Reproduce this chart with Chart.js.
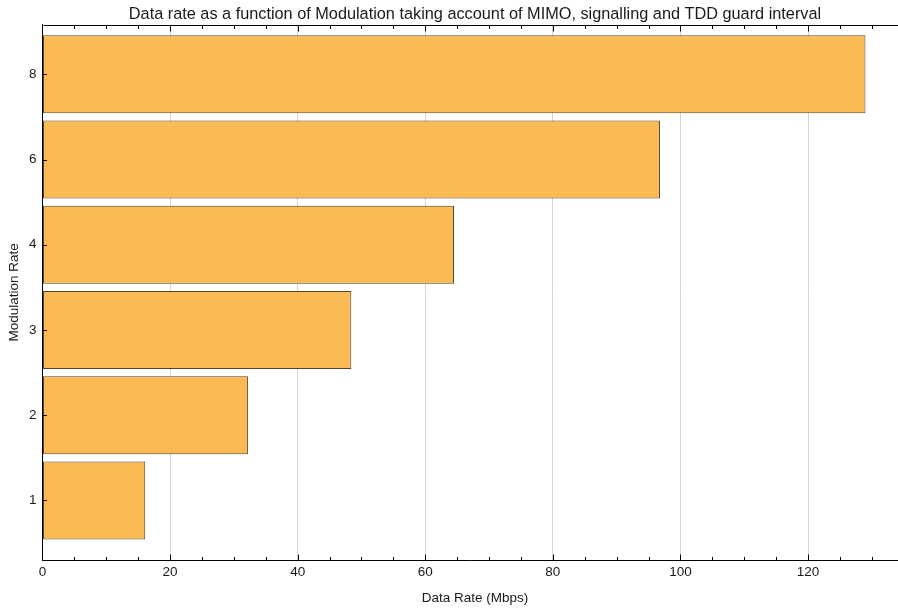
<!DOCTYPE html>
<html>
<head>
<meta charset="utf-8">
<script src="https://cdn.jsdelivr.net/npm/chart.js@4"></script>
<style>
  html, body { margin: 0; padding: 0; background: #fff; }
</style>
</head>
<body>
<canvas id="c" width="898" height="608"></canvas>
<script>
// Modulation rates (category labels, bottom to top) and resulting data rates in Mbps
const categories = ['1', '2', '3', '4', '6', '8'];
const dataRates = [16.1, 32.2, 48.4, 64.5, 96.8, 129.0];
// Labelled ticks on the data-rate axis; minor ticks every 5 Mbps
const xTickValues = [0, 20, 40, 60, 80, 100, 120];
const xMinorStep = 5;
const xMax = 134.1;
// the plot frame continues slightly past the right canvas edge
const frameOverhang = 9.5;

const FONT = "'Liberation Sans', Arial, Helvetica, sans-serif";
const TEXT = '#1a1a1a';

// Frame line on top plus inward major/minor ticks on the drawn frame edges
const frameTicks = {
  id: 'frameTicks',
  afterLayout(chart) {
    // centre the title and the x-axis title over the full plot frame
    const a = chart.chartArea;
    if (chart.titleBlock) {
      chart.titleBlock.left = a.left;
      chart.titleBlock.right = a.right + frameOverhang;
    }
    chart.scales.x.right = a.right + frameOverhang;
  },
  afterDraw(chart) {
    const { ctx, chartArea: a, scales: { x, y } } = chart;
    ctx.save();
    ctx.strokeStyle = '#000';
    ctx.lineWidth = 1;
    ctx.beginPath();
    const top = Math.round(a.top) + 0.5;
    const bottom = Math.round(a.bottom) + 0.5;
    const left = Math.round(a.left) + 0.5;
    ctx.moveTo(left, top);
    ctx.lineTo(a.right, top);
    for (let v = xMinorStep; v <= xMax; v += xMinorStep) {
      const px = Math.round(x.getPixelForValue(v)) + 0.5;
      const len = (v % 20 === 0) ? 6 : 3.5;
      ctx.moveTo(px, bottom);
      ctx.lineTo(px, bottom - len);
      ctx.moveTo(px, top);
      ctx.lineTo(px, top + len);
    }
    for (let i = 1; i <= categories.length; i++) {
      const py = Math.round(y.getPixelForValue(i)) + 0.5;
      ctx.moveTo(left, py);
      ctx.lineTo(left + 3.5, py);
    }
    ctx.stroke();
    ctx.restore();
  }
};

new Chart(document.getElementById('c'), {
  type: 'bar',
  data: {
    datasets: [{
      data: dataRates.map((v, i) => ({ x: v, y: i + 1 })),
      backgroundColor: 'rgb(251,186,84)',
      borderColor: 'rgba(70,48,12,0.9)',
      borderWidth: 1,
      borderSkipped: false,
      categoryPercentage: 1,
      barPercentage: 0.915
    }]
  },
  options: {
    indexAxis: 'y',
    responsive: false,
    animation: false,
    layout: { padding: 0 },
    plugins: {
      legend: { display: false },
      tooltip: { enabled: false },
      title: {
        display: true,
        text: 'Data rate as a function of Modulation taking account of MIMO, signalling and TDD guard interval',
        color: TEXT,
        font: { family: FONT, size: 16.3, weight: 'normal', lineHeight: 1.2 },
        padding: { top: 5, bottom: 0 }
      }
    },
    scales: {
      x: {
        type: 'linear',
        min: 0,
        max: xMax,
        afterBuildTicks: s => { s.ticks = xTickValues.map(v => ({ value: v })); },
        afterFit: s => { s.height = 48; },
        grid: { color: 'rgb(212,212,212)', lineWidth: 1, drawTicks: false },
        border: { display: true, color: '#000', width: 1 },
        ticks: { color: TEXT, font: { family: FONT, size: 13.5 }, padding: 4 },
        title: {
          display: true,
          text: 'Data Rate (Mbps)',
          color: TEXT,
          font: { family: FONT, size: 13.5 },
          padding: { top: 0, bottom: 2 }
        }
      },
      y: {
        type: 'linear',
        offset: false,
        min: 0.302,
        max: 6.583,
        afterBuildTicks: s => { s.ticks = categories.map((c, i) => ({ value: i + 1 })); },
        afterFit: s => { s.width = 42.5; },
        grid: { display: true, color: 'rgba(0,0,0,0)', drawTicks: false },
        border: { display: true, color: '#000', width: 1 },
        ticks: {
          color: TEXT,
          font: { family: FONT, size: 13.5 },
          padding: 6,
          callback: v => categories[Math.round(v) - 1]
        },
        title: {
          display: true,
          text: 'Modulation Rate',
          color: TEXT,
          font: { family: FONT, size: 13.5 },
          padding: { top: 6, bottom: 0 }
        }
      }
    }
  },
  plugins: [frameTicks]
});
</script>
</body>
</html>
